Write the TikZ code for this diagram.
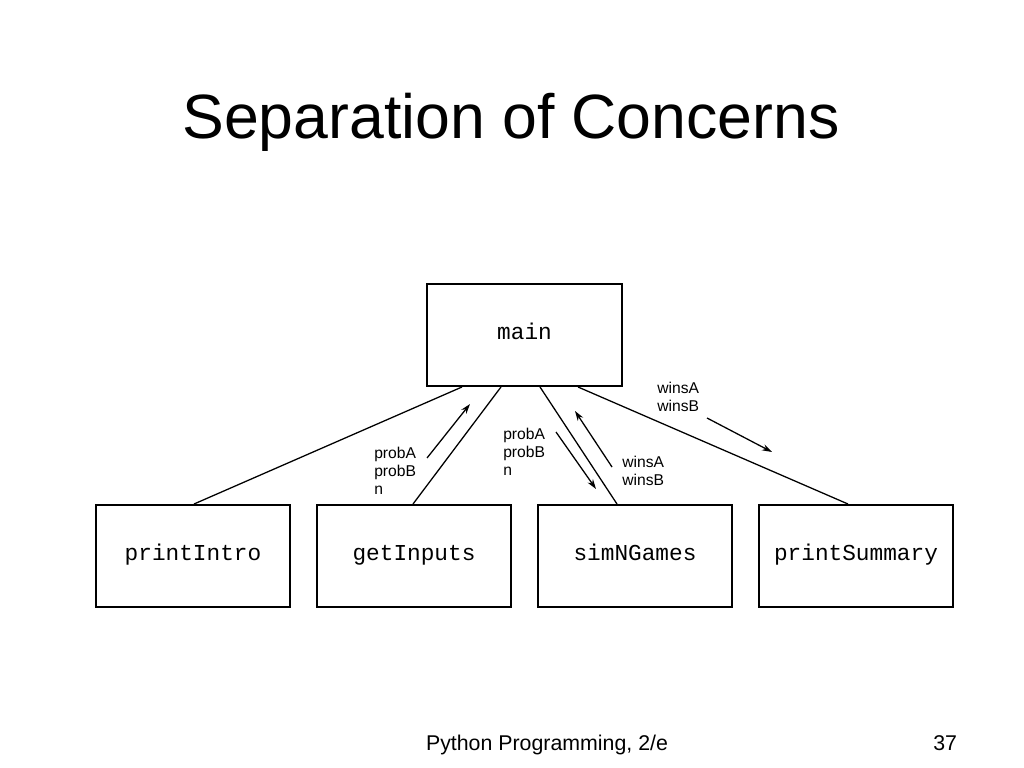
\documentclass[tikz,border=0pt]{standalone}
\usepackage{fontspec}
\setmainfont{Liberation Sans}
\newfontfamily\monofont{Liberation Mono}
\usetikzlibrary{arrows.meta}
\def\u{0.703125pt}
\tikzset{
  box/.style={draw=black, line width=1.4pt, minimum width=136.8pt, minimum height=71.7pt, inner sep=0pt, text height=9pt, text depth=3pt, font=\monofont\fontsize{16}{18}\selectfont},
  conn/.style={draw=black, line width=0.9pt},
  flow/.style={draw=black, line width=0.9pt, -{Stealth[length=7pt,width=4.5pt]}},
  lbl/.style={anchor=north west, inner sep=0pt, align=left, font=\fontsize{11}{12.6}\selectfont}
}
\begin{document}
\begin{tikzpicture}[x=0.703125pt, y=-0.703125pt]
\useasboundingbox (0,0) rectangle (1024,768);
\node[anchor=base, font=\fontsize{44}{50}\selectfont] (title) at (511,139) {Separation of Concerns};

\node[box] (main) at (524.5,335) {main};
\node[box] (intro) at (193,556) {printIntro};
\node[box] (inputs) at (414,556) {getInputs};
\node[box] (sim) at (635,556) {simNGames};
\node[box] (summ) at (856,556) {printSummary};

\draw[conn] ([xshift=-62.5*\u]main.south) -- ([xshift=1*\u]intro.north);
\draw[conn] ([xshift=-23.5*\u]main.south) -- ([xshift=-1*\u]inputs.north);
\draw[conn] ([xshift=15.5*\u]main.south) -- ([xshift=-18*\u]sim.north);
\draw[conn] ([xshift=53.5*\u]main.south) -- ([xshift=-8*\u]summ.north);

\coordinate (a1s) at (427,458);
\coordinate (a1e) at (470,404);
\coordinate (a2s) at (556,432);
\coordinate (a2e) at (596,489);
\coordinate (a3s) at (612,467);
\coordinate (a3e) at (575,411);
\coordinate (a4s) at (707,418);
\coordinate (a4e) at (772,452);
\draw[flow] (a1s) -- (a1e);
\draw[flow] (a2s) -- (a2e);
\draw[flow] (a3s) -- (a3e);
\draw[flow] (a4s) -- (a4e);

\node[lbl] (l1) at (374,447) {probA\\probB\\n};
\node[lbl] (l2) at (503,428) {probA\\probB\\n};
\node[lbl] (l3) at (622,456) {winsA\\winsB};
\node[lbl] (l4) at (657,382) {winsA\\winsB};

\node[anchor=base, font=\fontsize{15}{18}\selectfont] (foot) at (547,750) {Python Programming, 2/e};
\node[anchor=base east, font=\fontsize{15}{18}\selectfont] (page) at (962,750) {37};
\end{tikzpicture}
\end{document}
